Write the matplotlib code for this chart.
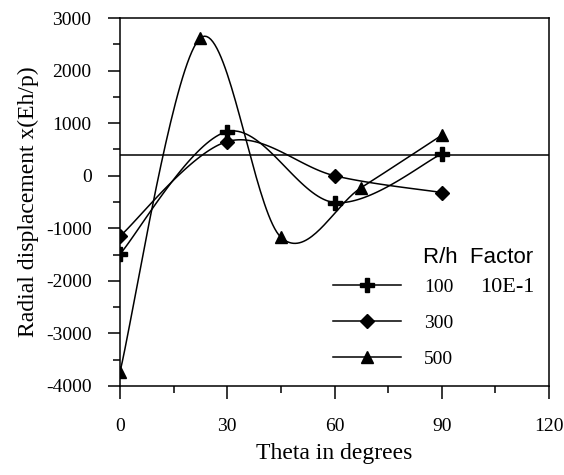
import numpy as np
import matplotlib
matplotlib.use("Agg")
import matplotlib.pyplot as plt
from matplotlib.lines import Line2D
from matplotlib.ticker import MultipleLocator

plt.rcParams["font.family"] = ["Liberation Serif", "DejaVu Serif"]
plt.rcParams["axes.unicode_minus"] = False

# data
theta_100 = [0, 30, 60, 90]
disp_100 = [-1490, 840, -510, 415]

theta_300 = [0, 30, 60, 90]
disp_300 = [-1150, 650, 0, -320]

theta_500 = [0, 22.5, 45, 67.5, 90]
disp_500 = [-3730, 2620, -1170, -225, 770]

ref_level = 388
labels = ["100", "300", "500"]


def smooth(x, y, n=40):
    # Catmull-Rom style bezier, like spreadsheet "smoothed line"
    p = np.column_stack([x, y]).astype(float)
    pts = np.vstack([p[0], p, p[-1]])
    t = np.linspace(0, 1, n)[:, None]
    out = []
    for i in range(1, len(pts) - 2):
        p0, p1, p2, p3 = pts[i - 1], pts[i], pts[i + 1], pts[i + 2]
        c1 = p1 + (p2 - p0) / 6
        c2 = p2 - (p3 - p1) / 6
        seg = ((1 - t) ** 3) * p1 + 3 * ((1 - t) ** 2) * t * c1 \
            + 3 * (1 - t) * t ** 2 * c2 + t ** 3 * p2
        out.append(seg)
    out = np.vstack(out)
    return out[:, 0], out[:, 1]


fig = plt.figure(figsize=(5.64, 4.75), dpi=100)
ax = fig.add_axes([0.2128, 0.1874, 0.7606, 0.7747])

series = [
    (theta_100, disp_100, "P", 9.5),
    (theta_300, disp_300, "D", 7),
    (theta_500, disp_500, "^", 9),
]
for x, y, m, ms in series:
    sx, sy = smooth(x, y)
    ax.plot(sx, sy, color="black", lw=1.1)
    ax.plot(x, y, linestyle="none", marker=m, ms=ms, color="black")

ax.axhline(ref_level, color="black", lw=1.1)

ax.set_xlim(0, 120)
ax.set_ylim(-4000, 3000)
ax.xaxis.set_major_locator(MultipleLocator(30))
ax.xaxis.set_minor_locator(MultipleLocator(15))
ax.yaxis.set_major_locator(MultipleLocator(1000))
ax.yaxis.set_minor_locator(MultipleLocator(500))
ax.tick_params(which="major", direction="out", length=9, width=1.1,
               labelsize=14, pad=11.5)
ax.tick_params(which="minor", direction="out", length=5, width=1.1)
ax.tick_params(axis="x", which="major", pad=14)
for s in ax.spines.values():
    s.set_linewidth(1.1)

ax.set_xlabel("Theta in degrees", fontsize=17, labelpad=6)
ax.set_ylabel("Radial displacement x(Eh/p)", fontsize=17, labelpad=5)

handles = [Line2D([], [], color="black", lw=1.1, marker=m, ms=ms)
           for _, _, m, ms in series]
ax.legend(handles, labels, loc="upper left", bbox_to_anchor=(0.473, 0.32),
          frameon=False, fontsize=14, handlelength=3.5, numpoints=1,
          labelspacing=0.95, handletextpad=1.2, borderpad=0)

ax.text(0.706, 0.348, "R/h  Factor", transform=ax.transAxes,
        family="Liberation Sans", fontsize=16, va="center")
ax.text(0.839, 0.268, "10E-1", transform=ax.transAxes, fontsize=16,
        va="center")

fig.savefig("out.png", dpi=100)
